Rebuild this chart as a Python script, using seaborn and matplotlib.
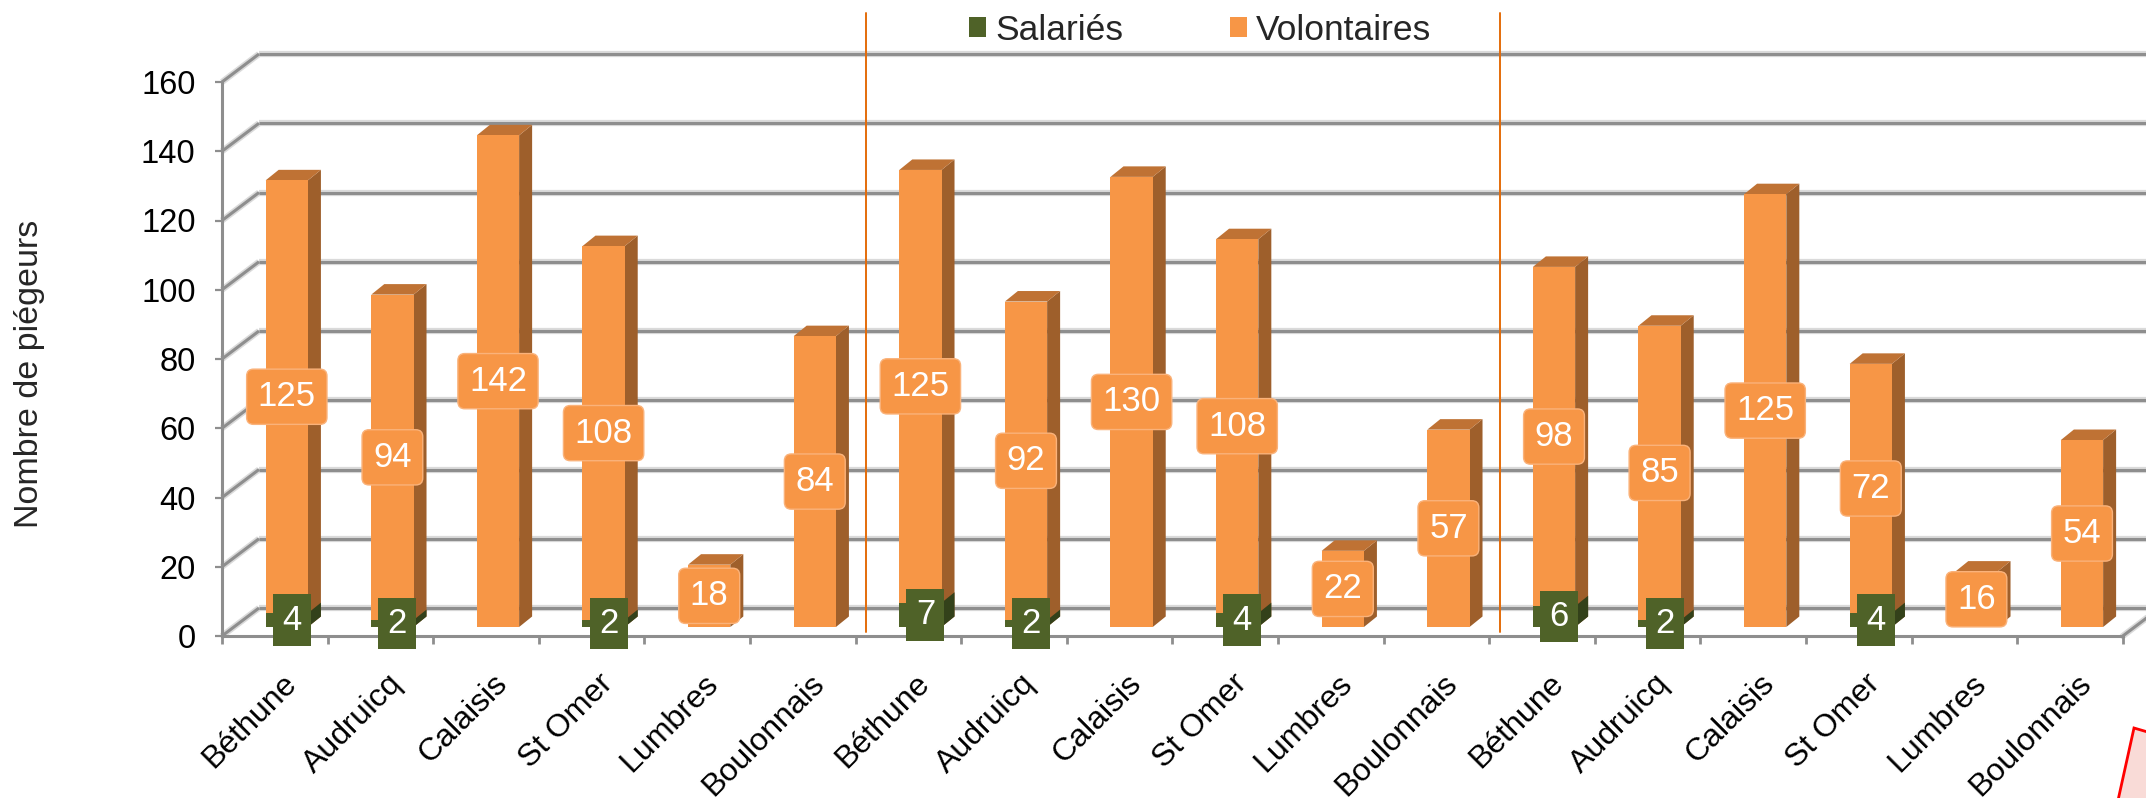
import numpy as np
import pandas as pd
import matplotlib
matplotlib.use("Agg")
import matplotlib.pyplot as plt
import matplotlib.transforms as mtransforms
from matplotlib.patches import Polygon, Patch
import seaborn as sns

# ---------------- data ----------------
regions = ["Béthune", "Audruicq", "Calaisis", "St Omer", "Lumbres", "Boulonnais"] * 3
salaries = [4, 2, 0, 2, 0, 0,
            7, 2, 0, 4, 0, 0,
            6, 2, 0, 4, 0, 0]
volontaires = [125, 94, 142, 108, 18, 84,
               125, 92, 130, 108, 22, 57,
               98, 85, 125, 72, 16, 54]
series_names = ["Salariés", "Volontaires"]
y_ticks = [0, 20, 40, 60, 80, 100, 120, 140, 160]
y_label = "Nombre de piégeurs"
group_size = 6

# ---------------- style ----------------
sns.set_style("white")
plt.rcParams["font.family"] = ["Liberation Sans", "DejaVu Sans"]

ORANGE = "#F79646"
ORANGE_SIDE = "#9E5F2B"
ORANGE_TOP = "#BF7234"
GREEN = "#4F6228"
GREEN_SIDE = "#33411A"
GRID = "#8E8E8E"
GRID_HALO = "#DADADA"
SEP = "#E46C0A"

W, H = 2146, 798
DPI = 100
CAT_PX = 105.6      # pixels per category
UNIT_PX = 3.4625    # pixels per value unit
AX_LEFT, AX_TOP, AX_BOTTOM = 222, 10, 650
ZERO_PX = 636

fig = plt.figure(figsize=(W / DPI, H / DPI), dpi=DPI)
fig.patch.set_facecolor("white")
ax = fig.add_axes([AX_LEFT / W, 1 - AX_BOTTOM / H, (W - AX_LEFT) / W, (AX_BOTTOM - AX_TOP) / H])
ax.set_facecolor("white")

n = len(regions)
df = pd.DataFrame({
    "pos": list(range(n)),
    "region": regions,
    "sal": salaries,
    "vol": volontaires,
})
df["total"] = df["sal"] + df["vol"]

# 3D geometry (in data units)
BACK_DX = 37 / CAT_PX
BACK_DY = 28 / UNIT_PX
FRONT_DX = 12 / CAT_PX
BASE = (ZERO_PX - 627) / UNIT_PX
DEPTH_DX = 13 / CAT_PX
DEPTH_DY = 10.5 / UNIT_PX

# bars
sns.barplot(data=df, x="pos", y="total", color=ORANGE, saturation=1, width=0.4,
            errorbar=None, linewidth=0, zorder=3, ax=ax)
n_orange = len(ax.patches)
sns.barplot(data=df, x="pos", y="sal", color=GREEN, saturation=1, width=0.4,
            errorbar=None, linewidth=0, zorder=5, ax=ax)
orange_bars = ax.patches[:n_orange]
green_bars = ax.patches[n_orange:]

for p in list(orange_bars) + list(green_bars):
    p.set_x(p.get_x() + FRONT_DX)
    p.set_y(BASE)
    p.set_edgecolor("none")

def add_faces(p, side_col, top_col, z):
    x0 = p.get_x(); x1 = x0 + p.get_width()
    y0 = p.get_y(); y1 = y0 + p.get_height()
    if p.get_height() <= 0:
        return
    side = Polygon([(x1, y0), (x1 + DEPTH_DX, y0 + DEPTH_DY),
                    (x1 + DEPTH_DX, y1 + DEPTH_DY), (x1, y1)],
                   closed=True, fc=side_col, ec="none", zorder=z)
    ax.add_patch(side)
    if top_col is not None:
        top = Polygon([(x0, y1), (x0 + DEPTH_DX, y1 + DEPTH_DY),
                       (x1 + DEPTH_DX, y1 + DEPTH_DY), (x1, y1)],
                      closed=True, fc=top_col, ec="none", zorder=z)
        ax.add_patch(top)

for p in orange_bars:
    add_faces(p, ORANGE_SIDE, ORANGE_TOP, 2.9)
for p in green_bars:
    add_faces(p, GREEN_SIDE, None, 4.9)

# data labels
for p, s, v in zip(orange_bars, df["sal"], df["vol"]):
    cx = p.get_x() + p.get_width() / 2
    ax.text(cx, BASE + s + v / 2, f"{v}", ha="center", va="center", color="white",
            fontsize=25, zorder=6,
            bbox=dict(boxstyle="round,pad=0.32,rounding_size=0.2", fc=ORANGE, ec="#FAB27A", lw=1))
for p, s in zip(green_bars, df["sal"]):
    if s <= 0:
        continue
    cx = p.get_x() + p.get_width() / 2 + 5 / CAT_PX
    ax.text(cx, BASE + s / 2, f"{s}", ha="center", va="center", color="white",
            fontsize=25, zorder=7,
            bbox=dict(boxstyle="square,pad=0.27", fc=GREEN, ec="none"))

# axes limits
x_min = -0.5
x_max = x_min + (W - AX_LEFT) / CAT_PX
ax.set_xlim(x_min, x_max)
ax.set_ylim(-(AX_BOTTOM - ZERO_PX) / UNIT_PX, (ZERO_PX - AX_TOP) / UNIT_PX)

# back wall gridlines + connectors
x_end = n - 0.5
for v in y_ticks:
    for lw, col, z in ((4.5, GRID_HALO, 0.5), (2.2, GRID, 1)):
        ax.plot([x_min, x_min + BACK_DX], [v, v + BACK_DY], color=col, lw=lw,
                zorder=z, solid_capstyle="butt", clip_on=False)
        ax.plot([x_min + BACK_DX, x_max + 1], [v + BACK_DY, v + BACK_DY], color=col, lw=lw,
                zorder=z, solid_capstyle="butt")
# floor right edge
for lw, col, z in ((4.5, GRID_HALO, 0.5), (2.2, GRID, 1)):
    ax.plot([x_end, x_end + BACK_DX], [0, BACK_DY], color=col, lw=lw, zorder=z)

# group separators
for g in range(1, n // group_size):
    xs = g * group_size - 0.5 + 0.1
    ax.plot([xs, xs], [1.2, (ZERO_PX - 13) / UNIT_PX], color=SEP, lw=1.4, zorder=2, clip_on=False)

# spines / ticks
sns.despine(ax=ax, top=True, right=True)
ax.spines["left"].set_bounds(y_ticks[0], y_ticks[-1])
ax.spines["left"].set_color(GRID)
ax.spines["left"].set_linewidth(2.2)
ax.spines["bottom"].set_position(("data", 0))
ax.spines["bottom"].set_bounds(-0.5, x_end)
ax.spines["bottom"].set_color(GRID)
ax.spines["bottom"].set_linewidth(2.2)
ax.spines["bottom"].set_zorder(1)

ax.set_yticks(y_ticks)
ax.set_yticklabels([str(t) for t in y_ticks])
ax.tick_params(axis="y", length=5, width=1.6, color=GRID, pad=14, labelsize=23.5,
               labelcolor="#000000", direction="out", left=True)

ax.set_xticks(range(n))
ax.set_xticklabels(regions, rotation=45, ha="right", va="center", rotation_mode="anchor")
ax.set_xticks(np.arange(-0.5, n, 1), minor=True)
ax.tick_params(axis="x", which="major", length=0, pad=31, labelsize=23, labelcolor="#000000")
ax.tick_params(axis="x", which="minor", length=6, width=2, color=GRID, direction="out", bottom=True)
off = mtransforms.ScaledTranslation(17 / DPI, 0, fig.dpi_scale_trans)
for lbl in ax.get_xticklabels():
    lbl.set_transform(lbl.get_transform() + off)

ax.set_xlabel("")
ax.set_ylabel(y_label, fontsize=24.5)
ax.yaxis.label.set_verticalalignment("center")
ax.yaxis.set_label_coords((30 - AX_LEFT) / (W - AX_LEFT), (AX_BOTTOM - 374) / (AX_BOTTOM - AX_TOP))

# legend
handles = [Patch(fc=GREEN, ec="none"), Patch(fc=ORANGE, ec="none")]
fig.legend(handles, series_names, loc="center", bbox_to_anchor=(1200 / W, 1 - 30 / H),
           ncol=2, frameon=False, fontsize=25.5, handlelength=0.5, handleheight=0.5,
           handletextpad=0.25, columnspacing=3.0, borderaxespad=0, borderpad=0)

# partial callout shape at bottom right
fig.patches.append(Polygon([(2115 / W, -0.02), (2134 / W, 1 - 728 / H),
                            (2175 / W, 1 - 740 / H), (2175 / W, -0.02)],
                           closed=True, transform=fig.transFigure, fc="#F9DBD7",
                           ec="#FF0000", lw=2, zorder=10))

fig.savefig("out.png", dpi=DPI)
